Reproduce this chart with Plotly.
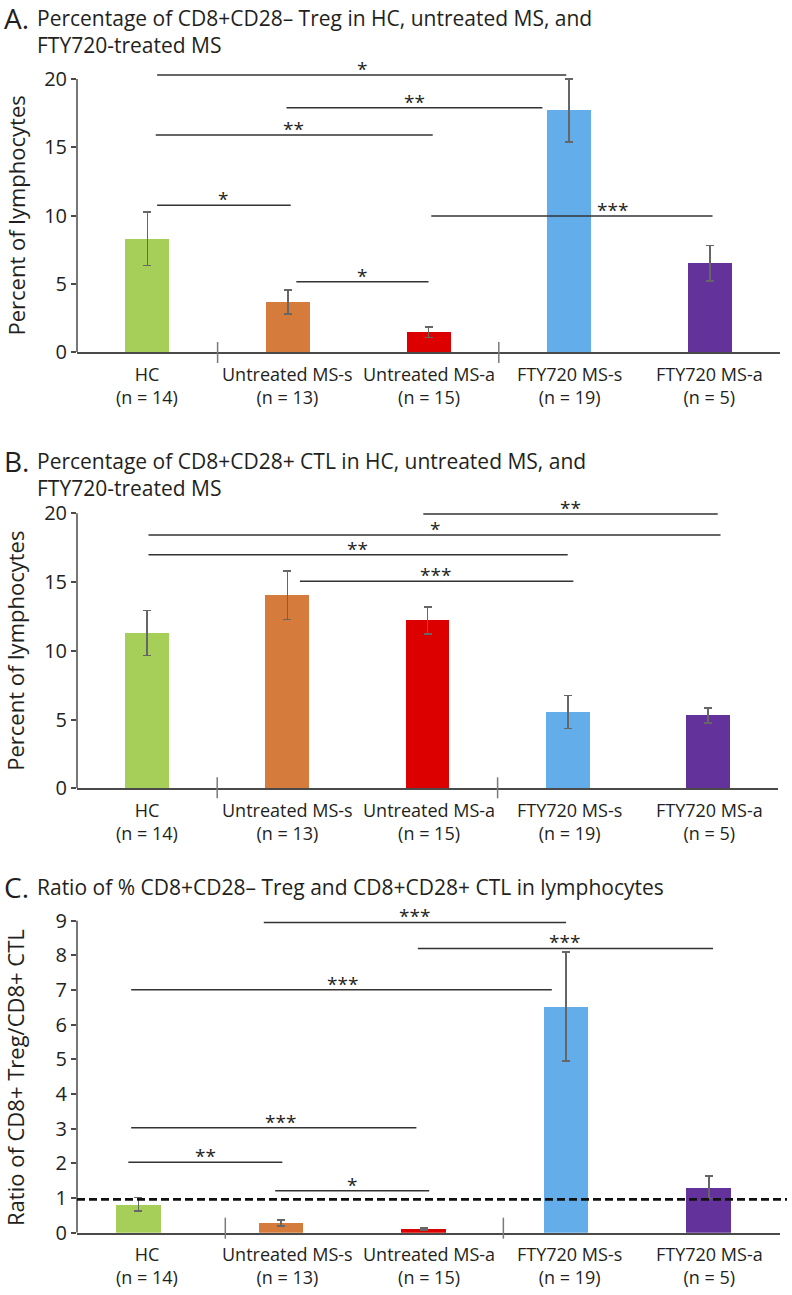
import plotly.graph_objects as go

W, H = 792, 1295

groups = ["HC", "Untreated MS-s", "Untreated MS-a", "FTY720 MS-s", "FTY720 MS-a"]
n_values = [14, 13, 15, 19, 5]
bar_colors = ["#A6CF5A", "#D57B3B", "#DC0000", "#63AEEA", "#63339B"]

# A: % CD8+CD28- Treg
treg_pct = [8.3, 3.65, 1.45, 17.7, 6.5]
treg_err = [1.95, 0.88, 0.38, 2.3, 1.3]
# B: % CD8+CD28+ CTL
ctl_pct = [11.3, 14.05, 12.2, 5.55, 5.3]
ctl_err = [1.64, 1.77, 1.0, 1.2, 0.55]
# C: ratio Treg / CTL
ratio = [0.82, 0.28, 0.11, 6.52, 1.31]
ratio_err = [0.19, 0.08, 0.03, 1.57, 0.32]
ratio_ref = 0.96

# significance bars: (from, to, height, label, label position)
sig_a = [(0.07, 2.98, 20.3, "*", 1.53), (0.99, 2.81, 17.9, "**", 1.90),
         (0.06, 2.03, 15.9, "**", 1.04), (0.07, 1.02, 10.75, "*", 0.54),
         (1.06, 2.0, 5.15, "*", 1.53), (2.02, 4.02, 9.96, "***", 3.31)]
sig_b = [(1.97, 4.07, 19.95, "**", 3.02), (0.01, 4.09, 18.42, "*", 2.05),
         (0.01, 3.0, 16.99, "**", 1.5), (1.09, 3.04, 15.05, "***", 2.06)]
sig_c = [(0.88, 3.0, 8.95, "***", 1.94), (1.96, 4.03, 8.2, "***", 2.99),
         (-0.05, 2.9, 7.01, "***", 1.43), (-0.05, 1.95, 3.03, "***", 1.0),
         (-0.07, 1.01, 2.03, "**", 0.47), (0.96, 2.04, 1.21, "*", 1.5)]

separators_ab = [0.5, 2.5]
separators_c = [0.61, 2.56]

titles = ["Percentage of CD8+CD28\u2013 Treg in HC, untreated MS, and<br>FTY720-treated MS",
          "Percentage of CD8+CD28+ CTL in HC, untreated MS, and<br>FTY720-treated MS",
          "Ratio of % CD8+CD28\u2013 Treg and CD8+CD28+ CTL in lymphocytes"]
letters = ["A.", "B.", "C."]
ytitles = ["Percent of lymphocytes", "Percent of lymphocytes", "Ratio of CD8+ Treg/CD8+ CTL"]

FONT = "Open Sans"
TXT = "#231f20"
AX = "#4a4a4a"

cat_labels = [f"{g}<br>(n = {n})" for g, n in zip(groups, n_values)]

panels = [
    dict(xl=77, xr=780, y0=352, ppu=13.65, top=20.8, amax=20, dtick=5, xr0=-0.5,
         vals=treg_pct, err=treg_err, sig=sig_a, sep=separators_ab, sep_up=10, sep_dn=11,
         title_y=16, ytc=215.5),
    dict(xl=77, xr=778, y0=788.3, ppu=13.75, top=20.8, amax=20, dtick=5, xr0=-0.5,
         vals=ctl_pct, err=ctl_err, sig=sig_b, sep=separators_ab, sep_up=11, sep_dn=10,
         title_y=459, ytc=650.8),
    dict(xl=77, xr=780, y0=1232.7, ppu=34.67, top=9.2, amax=9, dtick=1, xr0=-0.43,
         vals=ratio, err=ratio_err, sig=sig_c, sep=separators_c, sep_up=15, sep_dn=6,
         title_y=885, ytc=1078),
]

fig = go.Figure()
shapes = []
annotations = []

for i, p in enumerate(panels):
    k = "" if i == 0 else str(i + 1)
    xa, ya = "x" + k, "y" + k
    hpx = p["top"] * p["ppu"]
    ydom = [1 - p["y0"] / H, 1 - (p["y0"] - hpx) / H]
    fig.add_trace(go.Bar(
        x=groups, y=p["vals"], xaxis=xa, yaxis=ya, width=0.313,
        marker=dict(color=bar_colors, line=dict(width=0)),
        error_y=dict(type="data", array=p["err"], color="#666666", thickness=1.6, width=4),
        showlegend=False, hoverinfo="skip"))
    fig.update_layout({
        "xaxis" + k: dict(domain=[p["xl"] / W, p["xr"] / W], range=[p["xr0"], 4.5],
                          anchor=ya, showline=True, linecolor=AX, linewidth=2,
                          ticks="", showgrid=False, zeroline=False, automargin=False,
                          showticklabels=False),
        "yaxis" + k: dict(domain=ydom, range=[0, p["top"]], anchor=xa, automargin=False,
                          showline=False, ticks="outside", ticklen=5, tickwidth=1.5,
                          tickcolor=AX, tickvals=list(range(0, p["amax"] + 1, p["dtick"])),
                          showgrid=False, zeroline=False,
                          tickfont=dict(family=FONT, size=20, color=TXT)),
    })
    # category labels, same columns in every panel (aligned on panel A's axis)
    for g, t in zip(groups, cat_labels):
        annotations.append(dict(x=g, y=1 - (p["y0"] + 33) / H, xref="x", yref="paper",
                                text=t, showarrow=False, yanchor="middle",
                                font=dict(family=FONT, size=18, color=TXT)))
    # y axis line only up to the last tick
    shapes.append(dict(type="line", xref=xa + " domain", yref=ya, x0=0, x1=0, y0=0,
                       y1=p["amax"], line=dict(color=AX, width=1.5)))
    # group separators on the x axis
    for s in p["sep"]:
        shapes.append(dict(type="line", xref=xa, yref=ya + " domain", x0=s, x1=s,
                           y0=-p["sep_dn"] / hpx, y1=p["sep_up"] / hpx,
                           line=dict(color="#7a7a7a", width=1.5)))
    # significance bars
    for x0, x1, yv, lab, xs in p["sig"]:
        shapes.append(dict(type="line", xref=xa, yref=ya, x0=x0, x1=x1, y0=yv, y1=yv,
                           line=dict(color="#333333", width=1.5)))
        annotations.append(dict(x=xs, y=yv, xref=xa, yref=ya, text=lab, showarrow=False,
                                yanchor="middle", yshift=6,
                                font=dict(family=FONT, size=19, color=TXT)))
    # panel titles
    annotations.append(dict(x=2 / W, y=1 - (p["title_y"] + 2) / H, xref="paper", yref="paper",
                            text=letters[i], showarrow=False, xanchor="left", yanchor="middle",
                            font=dict(family=FONT, size=28, color=TXT)))
    annotations.append(dict(x=35 / W, y=1 - (p["title_y"] - 14) / H, xref="paper", yref="paper",
                            text=titles[i], showarrow=False, xanchor="left", yanchor="top",
                            align="left", font=dict(family=FONT, size=21, color=TXT)))
    annotations.append(dict(x=15 / W, y=1 - p["ytc"] / H, xref="paper", yref="paper",
                            text=ytitles[i], showarrow=False, textangle=-90,
                            xanchor="center", yanchor="middle",
                            font=dict(family=FONT, size=22, color=TXT)))

# reference line at ratio ~1 in panel C
shapes.append(dict(type="line", xref="x3 domain", yref="y3", x0=0, x1=1.01,
                   y0=ratio_ref, y1=ratio_ref, line=dict(color="#111111", width=2.8, dash="8px,4px")))

fig.update_layout(width=W, height=H, margin=dict(l=0, r=0, t=0, b=0),
                  plot_bgcolor="white", paper_bgcolor="white",
                  shapes=shapes, annotations=annotations, bargap=0)
fig.write_html("out.html", config={"displayModeBar": False},
               post_script="document.body.style.margin='0';")
